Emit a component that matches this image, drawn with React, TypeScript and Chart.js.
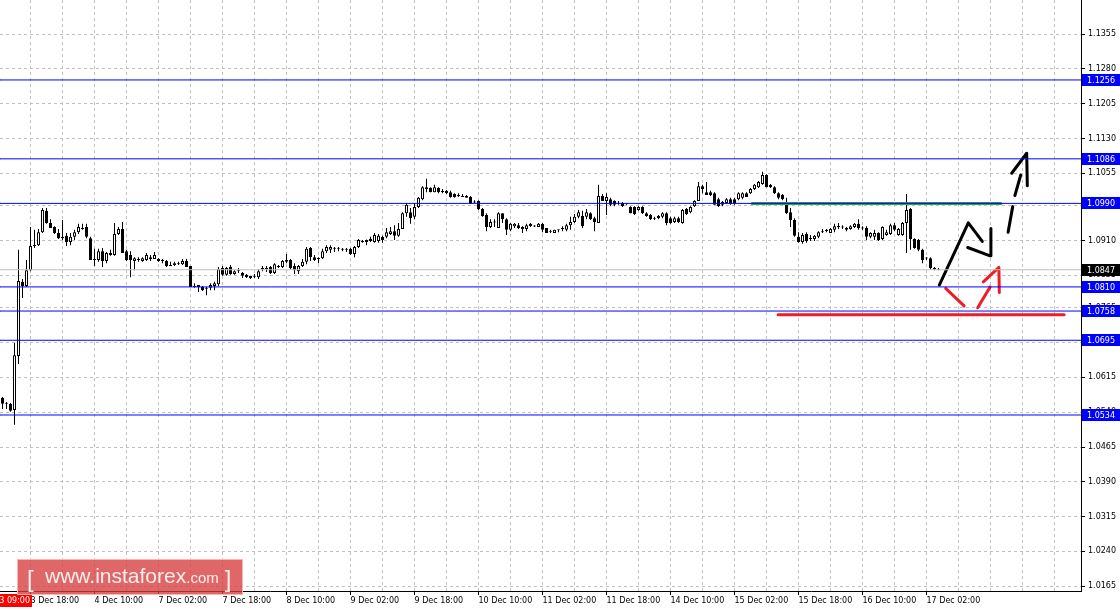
import React, { useEffect, useRef } from "react";
import { Chart, registerables } from "chart.js";

Chart.register(...registerables);

// ---- EUR/USD H1 candles (3 Dec - 17 Dec 2015) ----
const opens = [
  1.0571, 1.0558, 1.0558, 1.0545, 1.0661, 1.0821, 1.0812, 1.0846, 1.0898, 1.0900,
  1.0928, 1.0974, 1.0948, 1.0939, 1.0926, 1.0918, 1.0920, 1.0907, 1.0918, 1.0928,
  1.0937, 1.0939, 1.0915, 1.0870, 1.0868, 1.0887, 1.0866, 1.0883, 1.0879, 1.0924,
  1.0935, 1.0887, 1.0879, 1.0866, 1.0870, 1.0866, 1.0868, 1.0870, 1.0870, 1.0870,
  1.0868, 1.0866, 1.0857, 1.0857, 1.0859, 1.0859, 1.0866, 1.0855, 1.0812, 1.0814,
  1.0810, 1.0808, 1.0808, 1.0812, 1.0816, 1.0851, 1.0836, 1.0853, 1.0838, 1.0844,
  1.0840, 1.0836, 1.0834, 1.0831, 1.0831, 1.0848, 1.0851, 1.0853, 1.0840, 1.0855,
  1.0853, 1.0868, 1.0868, 1.0855, 1.0844, 1.0855, 1.0864, 1.0894, 1.0874, 1.0870,
  1.0872, 1.0887, 1.0890, 1.0894, 1.0892, 1.0892, 1.0892, 1.0892, 1.0881, 1.0896,
  1.0907, 1.0907, 1.0909, 1.0907, 1.0909, 1.0918, 1.0918, 1.0924, 1.0930, 1.0920,
  1.0935, 1.0969, 1.0971, 1.0961, 1.0982, 1.0999, 1.1025, 1.1023, 1.1014, 1.1023,
  1.1017, 1.1017, 1.1014, 1.1010, 1.1008, 1.1006, 1.1006, 1.1004, 1.0993, 1.0995,
  1.0978, 1.0965, 1.0939, 1.0950, 1.0937, 1.0969, 1.0956, 1.0933, 1.0941, 1.0943,
  1.0939, 1.0935, 1.0946, 1.0941, 1.0939, 1.0946, 1.0937, 1.0930, 1.0926, 1.0933,
  1.0935, 1.0933, 1.0943, 1.0950, 1.0961, 1.0963, 1.0961, 1.0969, 1.0958, 1.0948,
  1.1006, 1.0995, 1.0999, 1.0995, 1.0991, 1.0991, 1.0989, 1.0982, 1.0982, 1.0976,
  1.0982, 1.0969, 1.0965, 1.0958, 1.0963, 1.0961, 1.0969, 1.0958, 1.0950, 1.0958,
  1.0948, 1.0978, 1.0971, 1.0984, 1.0995, 1.1027, 1.1014, 1.1014, 1.1012, 1.0999,
  1.0987, 1.0991, 1.0999, 1.0999, 1.0999, 1.1002, 1.1012, 1.1012, 1.1021, 1.1025,
  1.1032, 1.1051, 1.1030, 1.1025, 1.1012, 1.1008, 1.0993, 1.0971, 1.0954, 1.0918,
  1.0907, 1.0924, 1.0915, 1.0913, 1.0918, 1.0928, 1.0930, 1.0926, 1.0933, 1.0939,
  1.0939, 1.0937, 1.0935, 1.0939, 1.0946, 1.0937, 1.0937, 1.0918, 1.0918, 1.0926,
  1.0913, 1.0922, 1.0924, 1.0943, 1.0922, 1.0922, 1.0948, 1.0978, 1.0913, 1.0911,
  1.0890, 1.0872, 1.0872, 1.0851, 1.0848,
];
const highs = [
  1.0573, 1.0562, 1.0560, 1.0689, 1.0890, 1.0827, 1.0868, 1.0939, 1.0933, 1.0935,
  1.0980, 1.0980, 1.0956, 1.0941, 1.0935, 1.0954, 1.0926, 1.0926, 1.0933, 1.0946,
  1.0946, 1.0946, 1.0918, 1.0892, 1.0892, 1.0894, 1.0885, 1.0890, 1.0948, 1.0939,
  1.0950, 1.0890, 1.0887, 1.0874, 1.0874, 1.0874, 1.0883, 1.0879, 1.0885, 1.0872,
  1.0870, 1.0868, 1.0864, 1.0864, 1.0864, 1.0870, 1.0870, 1.0855, 1.0818, 1.0814,
  1.0812, 1.0810, 1.0818, 1.0821, 1.0853, 1.0855, 1.0853, 1.0857, 1.0846, 1.0851,
  1.0842, 1.0838, 1.0834, 1.0838, 1.0848, 1.0855, 1.0855, 1.0855, 1.0861, 1.0857,
  1.0868, 1.0881, 1.0870, 1.0861, 1.0857, 1.0870, 1.0896, 1.0896, 1.0879, 1.0874,
  1.0892, 1.0900, 1.0900, 1.0896, 1.0896, 1.0894, 1.0894, 1.0894, 1.0898, 1.0913,
  1.0911, 1.0912, 1.0918, 1.0926, 1.0924, 1.0920, 1.0937, 1.0939, 1.0943, 1.0948,
  1.0971, 1.0991, 1.0980, 1.0991, 1.1004, 1.1027, 1.1043, 1.1025, 1.1030, 1.1025,
  1.1021, 1.1019, 1.1017, 1.1012, 1.1012, 1.1010, 1.1008, 1.1006, 1.0997, 1.0997,
  1.0980, 1.0969, 1.0956, 1.0956, 1.0971, 1.0969, 1.0958, 1.0948, 1.0948, 1.0948,
  1.0941, 1.0946, 1.0948, 1.0943, 1.0948, 1.0948, 1.0937, 1.0933, 1.0933, 1.0933,
  1.0941, 1.0946, 1.0961, 1.0967, 1.0976, 1.0974, 1.0978, 1.0971, 1.0961, 1.1030,
  1.1010, 1.1012, 1.1002, 1.0997, 1.0995, 1.0993, 1.0991, 1.0984, 1.0984, 1.0984,
  1.0984, 1.0971, 1.0967, 1.0961, 1.0965, 1.0971, 1.0971, 1.0961, 1.0961, 1.0961,
  1.0978, 1.0980, 1.0984, 1.0997, 1.1036, 1.1030, 1.1036, 1.1017, 1.1014, 1.1002,
  1.0995, 1.1001, 1.1002, 1.1002, 1.1014, 1.1014, 1.1014, 1.1023, 1.1032, 1.1038,
  1.1058, 1.1053, 1.1032, 1.1027, 1.1014, 1.1010, 1.1002, 1.0980, 1.0958, 1.0928,
  1.0926, 1.0928, 1.0922, 1.0922, 1.0930, 1.0935, 1.0935, 1.0937, 1.0946, 1.0948,
  1.0943, 1.0939, 1.0943, 1.0948, 1.0956, 1.0941, 1.0941, 1.0928, 1.0933, 1.0928,
  1.0941, 1.0933, 1.0946, 1.0948, 1.0937, 1.0950, 1.1010, 1.0980, 1.0915, 1.0913,
  1.0892, 1.0874, 1.0874, 1.0853, 1.0851,
];
const lows = [
  1.0547, 1.0547, 1.0541, 1.0513, 1.0644, 1.0786, 1.0810, 1.0844, 1.0894, 1.0898,
  1.0926, 1.0946, 1.0937, 1.0924, 1.0913, 1.0911, 1.0898, 1.0900, 1.0911, 1.0924,
  1.0933, 1.0915, 1.0868, 1.0855, 1.0864, 1.0853, 1.0861, 1.0877, 1.0877, 1.0922,
  1.0883, 1.0866, 1.0831, 1.0846, 1.0864, 1.0864, 1.0866, 1.0866, 1.0870, 1.0864,
  1.0861, 1.0853, 1.0855, 1.0855, 1.0857, 1.0857, 1.0853, 1.0810, 1.0808, 1.0799,
  1.0801, 1.0792, 1.0803, 1.0803, 1.0812, 1.0834, 1.0834, 1.0836, 1.0836, 1.0840,
  1.0829, 1.0829, 1.0827, 1.0829, 1.0827, 1.0844, 1.0842, 1.0838, 1.0838, 1.0851,
  1.0851, 1.0861, 1.0848, 1.0838, 1.0838, 1.0853, 1.0859, 1.0866, 1.0866, 1.0861,
  1.0870, 1.0883, 1.0883, 1.0885, 1.0887, 1.0887, 1.0885, 1.0879, 1.0874, 1.0894,
  1.0905, 1.0900, 1.0907, 1.0905, 1.0905, 1.0905, 1.0915, 1.0922, 1.0911, 1.0918,
  1.0935, 1.0961, 1.0946, 1.0956, 1.0980, 1.0997, 1.1014, 1.1014, 1.1014, 1.1012,
  1.1012, 1.1010, 1.1002, 1.1002, 1.1004, 1.1004, 1.1002, 1.0989, 1.0991, 1.0976,
  1.0961, 1.0930, 1.0937, 1.0939, 1.0937, 1.0948, 1.0922, 1.0930, 1.0937, 1.0935,
  1.0926, 1.0930, 1.0939, 1.0939, 1.0939, 1.0928, 1.0926, 1.0926, 1.0926, 1.0928,
  1.0930, 1.0930, 1.0933, 1.0948, 1.0958, 1.0937, 1.0956, 1.0954, 1.0930, 1.0948,
  1.0995, 1.0965, 1.0984, 1.0984, 1.0987, 1.0982, 1.0987, 1.0969, 1.0965, 1.0974,
  1.0967, 1.0961, 1.0954, 1.0954, 1.0956, 1.0958, 1.0943, 1.0946, 1.0948, 1.0948,
  1.0946, 1.0965, 1.0969, 1.0982, 1.0995, 1.1012, 1.1008, 1.1006, 1.0987, 1.0982,
  1.0984, 1.0989, 1.0987, 1.0987, 1.0997, 1.0999, 1.1004, 1.1010, 1.1019, 1.1023,
  1.1030, 1.1025, 1.1023, 1.1010, 1.0999, 1.0997, 1.0967, 1.0939, 1.0918, 1.0905,
  1.0903, 1.0905, 1.0909, 1.0909, 1.0915, 1.0926, 1.0928, 1.0926, 1.0928, 1.0935,
  1.0935, 1.0930, 1.0933, 1.0937, 1.0933, 1.0933, 1.0911, 1.0915, 1.0911, 1.0909,
  1.0911, 1.0920, 1.0922, 1.0930, 1.0920, 1.0920, 1.0883, 1.0890, 1.0892, 1.0887,
  1.0861, 1.0868, 1.0848, 1.0846, 1.0846,
];
const closes = [
  1.0558, 1.0560, 1.0543, 1.0663, 1.0823, 1.0812, 1.0846, 1.0898, 1.0900, 1.0928,
  1.0976, 1.0948, 1.0937, 1.0926, 1.0915, 1.0915, 1.0907, 1.0918, 1.0928, 1.0939,
  1.0935, 1.0918, 1.0868, 1.0868, 1.0887, 1.0866, 1.0883, 1.0879, 1.0924, 1.0935,
  1.0883, 1.0868, 1.0868, 1.0872, 1.0868, 1.0872, 1.0879, 1.0874, 1.0879, 1.0866,
  1.0866, 1.0855, 1.0855, 1.0861, 1.0860, 1.0866, 1.0853, 1.0810, 1.0810, 1.0810,
  1.0803, 1.0806, 1.0814, 1.0818, 1.0848, 1.0836, 1.0851, 1.0838, 1.0844, 1.0846,
  1.0834, 1.0831, 1.0829, 1.0832, 1.0844, 1.0851, 1.0848, 1.0840, 1.0859, 1.0853,
  1.0866, 1.0864, 1.0851, 1.0846, 1.0855, 1.0864, 1.0892, 1.0874, 1.0868, 1.0872,
  1.0887, 1.0896, 1.0896, 1.0892, 1.0893, 1.0890, 1.0890, 1.0881, 1.0896, 1.0911,
  1.0909, 1.0911, 1.0913, 1.0922, 1.0920, 1.0911, 1.0928, 1.0930, 1.0920, 1.0935,
  1.0969, 1.0987, 1.0958, 1.0982, 1.1002, 1.1025, 1.1021, 1.1014, 1.1025, 1.1014,
  1.1014, 1.1012, 1.1004, 1.1004, 1.1006, 1.1004, 1.1002, 1.0989, 1.0992, 1.0978,
  1.0963, 1.0939, 1.0950, 1.0949, 1.0969, 1.0956, 1.0933, 1.0946, 1.0946, 1.0937,
  1.0935, 1.0943, 1.0941, 1.0940, 1.0946, 1.0933, 1.0926, 1.0929, 1.0933, 1.0932,
  1.0937, 1.0943, 1.0950, 1.0961, 1.0971, 1.0941, 1.0971, 1.0956, 1.0950, 1.1006,
  1.0995, 1.1004, 1.0987, 1.0987, 1.0989, 1.0984, 1.0988, 1.0969, 1.0967, 1.0982,
  1.0969, 1.0963, 1.0956, 1.0956, 1.0958, 1.0969, 1.0948, 1.0948, 1.0958, 1.0950,
  1.0976, 1.0967, 1.0982, 1.0995, 1.1027, 1.1021, 1.1008, 1.1008, 1.0987, 1.0984,
  1.0993, 1.0999, 1.0989, 1.0989, 1.1012, 1.1012, 1.1004, 1.1021, 1.1030, 1.1036,
  1.1051, 1.1025, 1.1025, 1.1012, 1.1002, 1.0999, 1.0969, 1.0954, 1.0920, 1.0907,
  1.0922, 1.0909, 1.0913, 1.0920, 1.0928, 1.0930, 1.0933, 1.0935, 1.0941, 1.0941,
  1.0938, 1.0933, 1.0941, 1.0946, 1.0937, 1.0936, 1.0918, 1.0926, 1.0926, 1.0911,
  1.0939, 1.0928, 1.0943, 1.0933, 1.0935, 1.0948, 1.0976, 1.0913, 1.0894, 1.0890,
  1.0868, 1.0871, 1.0851, 1.0848, 1.0847,
];

// ---- axes ----
const xTickLabels = [
  "3 Dec 18:00", "4 Dec 10:00", "7 Dec 02:00", "7 Dec 18:00", "8 Dec 10:00",
  "9 Dec 02:00", "9 Dec 18:00", "10 Dec 10:00", "11 Dec 02:00", "11 Dec 18:00",
  "14 Dec 10:00", "15 Dec 02:00", "15 Dec 18:00", "16 Dec 10:00", "17 Dec 02:00",
];
const firstLabelBar = 7;
const barsPerLabel = 16;
const barsPerGrid = 8;
const xMin = -0.625;
const xMax = 269.625;
const yMin = 1.01547;
const yMax = 1.14283;
const yTickValues = [
  1.0165, 1.024, 1.0315, 1.039, 1.0465, 1.054, 1.0615, 1.069, 1.0765, 1.0835,
  1.091, 1.0985, 1.1055, 1.113, 1.1205, 1.128, 1.1355,
];
const firstDateLabel = "2015.12.03 09:00";

// ---- horizontal levels ----
const levels = [1.1256, 1.1086, 1.099, 1.081, 1.0758, 1.0695, 1.0534];
const lastPrice = 1.0847;

// ---- drawn annotations: [bar index, price] ----
const greenPath = [[187.4, 1.099], [249.6, 1.099]];
const redLinePath = [[193.9, 1.075], [265.4, 1.075]];
const redPathA = [[235.8, 1.0807], [240.4, 1.0769]];
const redPathB = [[243.8, 1.0765], [246.9, 1.081]];
const redPathC = [[245.2, 1.0821], [249.1, 1.0852], [249.2, 1.0798]];
const blackPathA = [[234.2, 1.0814], [241.45, 1.0948], [244.95, 1.0908]];
const blackPathB = [[241.3, 1.0895], [246.9, 1.0877], [247.1, 1.0936]];
const blackDashA = [[251.4, 1.0928], [252.55, 1.0983]];
const blackDashB = [[253.1, 1.1007], [254.55, 1.1051]];
const blackHead = [[252.3, 1.1055], [256.05, 1.1098], [256.2, 1.1028]];

const FONT = "DejaVu Sans";

function lineDs(pts: number[][], color: string, width: number) {
  return {
    type: "line" as const,
    data: pts.map(([x, y]) => ({ x, y })),
    borderColor: color,
    backgroundColor: color,
    borderWidth: width,
    pointRadius: 0,
    pointHoverRadius: 0,
    fill: false,
    tension: 0,
    borderCapStyle: "round" as const,
    borderJoinStyle: "round" as const,
    order: 0,
  };
}

const overlayPlugin = {
  id: "overlay",
  afterDraw(chart: any) {
    const { ctx, chartArea } = chart;
    const y = chart.scales.y;
    ctx.save();
    ctx.font = `8px "${FONT}"`;
    ctx.textBaseline = "middle";
    ctx.textAlign = "left";
    const tag = (price: number, bg: string) => {
      const py = Math.round(y.getPixelForValue(price));
      ctx.fillStyle = bg;
      ctx.fillRect(chartArea.right + 1, py - 6, 39, 12);
      ctx.fillStyle = "#ffffff";
      ctx.fillText(price.toFixed(4), chartArea.right + 6, py + 0.5);
    };
    levels.forEach((p) => tag(p, "#0000ff"));
    tag(lastPrice, "#000000");

    // red first-date box
    ctx.fillStyle = "#ff0000";
    ctx.fillRect(0, 594, 32, 13);
    ctx.fillStyle = "#ffffff";
    ctx.textAlign = "right";
    ctx.fillText(firstDateLabel, 30, 600.5);

    // watermark
    ctx.fillStyle = "rgba(214, 60, 60, 0.78)";
    ctx.fillRect(17, 559, 226, 36);
    ctx.strokeStyle = "rgba(255, 190, 190, 0.9)";
    ctx.lineWidth = 1;
    ctx.strokeRect(17.5, 559.5, 225, 35);
    ctx.fillStyle = "rgba(255,245,245,0.95)";
    ctx.textAlign = "left";
    ctx.textBaseline = "alphabetic";
    ctx.font = `24px "Liberation Sans"`;
    ctx.fillText("[", 27, 587);
    ctx.font = `21px "Liberation Sans"`;
    const w1 = "www.instaforex";
    ctx.fillText(w1, 45, 583);
    let xx = 45 + ctx.measureText(w1).width;
    ctx.font = `15px "Liberation Sans"`;
    ctx.fillText(".com", xx, 583);
    xx += ctx.measureText(".com").width;
    ctx.font = `24px "Liberation Sans"`;
    ctx.fillText("]", xx + 6, 587);
    ctx.restore();
  },
};

export default function App() {
  const ref = useRef<HTMLCanvasElement>(null);
  useEffect(() => {
    document.body.style.margin = "0";
    const idx = opens.map((_, i) => i);
    const wickData = idx.map((i) => ({ x: i, y: [lows[i], highs[i]] }));
    const bodyData = idx.map((i) => ({ x: i, y: [opens[i], closes[i]] }));
    const bodyFill = idx.map((i) => (closes[i] >= opens[i] ? "#ffffff" : "#000000"));

    const datasets: any[] = [
      {
        type: "bar",
        data: wickData,
        backgroundColor: "#000000",
        borderWidth: 0,
        barThickness: 1,
        grouped: false,
        minBarLength: 1,
        inflateAmount: 0,
        order: 2,
      },
      {
        type: "bar",
        data: bodyData,
        backgroundColor: bodyFill,
        borderColor: "#000000",
        borderWidth: 1,
        borderSkipped: false,
        barThickness: 3,
        grouped: false,
        minBarLength: 1,
        inflateAmount: 0,
        order: 1,
      },
      lineDs([[xMin, lastPrice], [xMax, lastPrice]], "#c0c0c0", 1),
      ...levels.map((p) => lineDs([[xMin, p], [xMax, p]], "#0000ff", 1)),
      lineDs(greenPath, "#2aa845", 3),
      lineDs(redLinePath, "#ee1c25", 3),
      lineDs(redPathA, "#ee1c25", 3),
      lineDs(redPathB, "#ee1c25", 3),
      lineDs(redPathC, "#ee1c25", 3),
      lineDs(blackPathA, "#000000", 3),
      lineDs(blackPathB, "#000000", 3),
      lineDs(blackDashA, "#000000", 3),
      lineDs(blackDashB, "#000000", 3),
      lineDs(blackHead, "#000000", 3),
    ];

    const chart = new Chart(ref.current as HTMLCanvasElement, {
      type: "bar",
      data: { datasets },
      options: {
        responsive: false,
        devicePixelRatio: 1,
        animation: false,
        events: [],
        layout: { padding: 0 },
        plugins: { legend: { display: false }, tooltip: { enabled: false } },
        scales: {
          x: {
            type: "linear",
            min: xMin,
            max: xMax,
            offset: false,
            afterBuildTicks: (s: any) => {
              const t: any[] = [];
              for (let v = firstLabelBar; v <= xMax; v += barsPerGrid) t.push({ value: v });
              s.ticks = t;
            },
            afterFit: (s: any) => {
              s.height = 19;
              s.paddingLeft = 0;
              s.paddingRight = 0;
            },
            ticks: {
              autoSkip: false,
              maxRotation: 0,
              minRotation: 0,
              align: "start",
              padding: 1,
              color: "#000000",
              font: { family: FONT, size: 8 },
              callback: (v: any) => {
                const k = (Number(v) - firstLabelBar) / barsPerLabel;
                return Number.isInteger(k) && k < xTickLabels.length ? xTickLabels[k] : "";
              },
            },
            grid: {
              offset: false,
              color: "#c0c0c0",
              lineWidth: 1,
              drawTicks: true,
              tickLength: 4,
              tickColor: (c: any) => {
                const v = c.tick ? c.tick.value : 0;
                const k = (v - firstLabelBar) / barsPerLabel;
                return Number.isInteger(k) && k < xTickLabels.length ? "#000000" : "rgba(0,0,0,0)";
              },
            },
            border: { display: true, color: "#000000", width: 1, dash: [3, 3] },
          },
          y: {
            type: "linear",
            position: "right",
            min: yMin,
            max: yMax,
            afterBuildTicks: (s: any) => {
              s.ticks = yTickValues.map((v) => ({ value: v }));
            },
            afterFit: (s: any) => {
              s.width = 39;
              s.paddingTop = 0;
              s.paddingBottom = 0;
            },
            ticks: {
              autoSkip: false,
              padding: 3,
              color: "#000000",
              font: { family: FONT, size: 8 },
              callback: (v: any) => Number(v).toFixed(4),
            },
            grid: { color: "#c0c0c0", lineWidth: 1, tickLength: 4, tickColor: "#000000" },
            border: { display: true, color: "#000000", width: 1, dash: [3, 3] },
          },
        },
      },
      plugins: [overlayPlugin],
    } as any);
    return () => chart.destroy();
  }, []);

  return (
    <div style={{ position: "absolute", left: 0, top: 0, width: 1120, height: 610, background: "#ffffff" }}>
      <canvas ref={ref} width={1120} height={610} style={{ display: "block", width: 1120, height: 610 }} />
    </div>
  );
}
